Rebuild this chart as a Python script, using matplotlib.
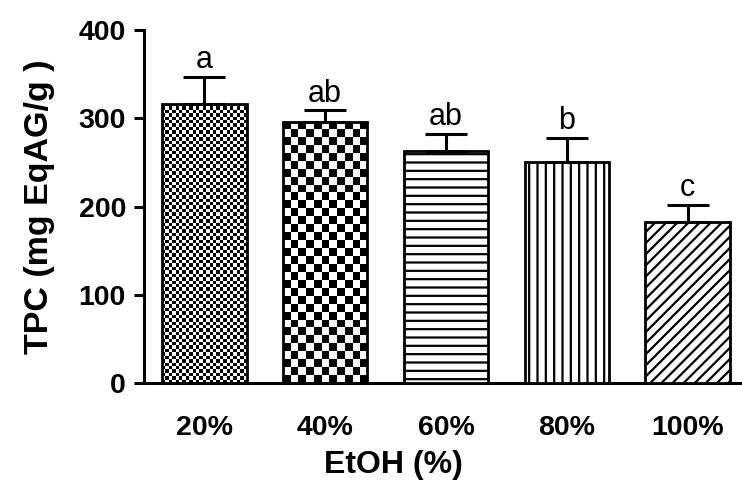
import numpy as np
import matplotlib
matplotlib.use('Agg')
import matplotlib.pyplot as plt

plt.rcParams['font.family'] = ['Liberation Sans', 'DejaVu Sans']
plt.rcParams['hatch.linewidth'] = 1.6

# data
labels = ['20%', '40%', '60%', '80%', '100%']
tpc = [316, 296, 263, 250, 183]
sem = [31, 13, 19, 28, 19]
letters = ['a', 'ab', 'ab', 'b', 'c']

fig = plt.figure(figsize=(7.42, 4.8), dpi=100)
ax = fig.add_axes([0.194, 0.2015, 0.806, 0.736])

x = np.arange(len(labels))
bars = ax.bar(x, tpc, width=0.7, facecolor='white', edgecolor='black',
              linewidth=2.0, zorder=3)
ax.set_xlim(-0.5, 4.45)
ax.set_ylim(0, 400)

# hatched bars
bars[2].set_hatch('--')
bars[3].set_hatch('||')
bars[4].set_hatch('///')


def checker(bar, sq_px):
    # checkerboard fill clipped to the bar
    fig.canvas.draw()
    bar.set_facecolor('none')
    x0, y0 = bar.get_x(), bar.get_y()
    x1, y1 = x0 + bar.get_width(), y0 + bar.get_height()
    p0 = ax.transData.transform((x0, y0))
    p1 = ax.transData.transform((x1, y1))
    nx = max(1, int(round((p1[0] - p0[0]) / sq_px)))
    ny = max(1, int(round((p1[1] - p0[1]) / sq_px)))
    ii, jj = np.indices((ny, nx))
    arr = (ii + jj) % 2
    im = ax.imshow(arr, cmap='gray', extent=(x0, x1, y0, y1), origin='lower',
                   interpolation='nearest', aspect='auto', zorder=2)
    im.set_clip_path(bar)


checker(bars[0], 3.4)
checker(bars[1], 8.0)
ax.set_xlim(-0.5, 4.45)
ax.set_ylim(0, 400)

ax.errorbar(x, tpc, yerr=[np.zeros(len(sem)), sem], fmt='none', ecolor='black',
            elinewidth=2.2, capsize=15, capthick=2.2, zorder=4)

for xi, v, e, t in zip(x, tpc, sem, letters):
    ax.text(xi, v + e + 2, t, ha='center', va='bottom', fontsize=22)

for s in ['top', 'right']:
    ax.spines[s].set_visible(False)
for s in ['left', 'bottom']:
    ax.spines[s].set_linewidth(2.2)

ax.set_yticks([0, 100, 200, 300, 400])
ax.set_xticks(x)
ax.set_xticklabels(labels)
ax.tick_params(axis='y', length=7, width=2.2, labelsize=20.5, pad=6)
ax.tick_params(axis='x', length=0, labelsize=20.5, pad=23)
for lab in ax.get_xticklabels() + ax.get_yticklabels():
    lab.set_fontweight('bold')

ax.set_xlabel('EtOH (%)', fontsize=23, fontweight='bold', labelpad=6)
ax.xaxis.label.set_x(0.418)
ax.set_ylabel('TPC (mg EqAG/g )', fontsize=24.5, fontweight='bold', labelpad=17)

fig.savefig('out.png', dpi=100)
